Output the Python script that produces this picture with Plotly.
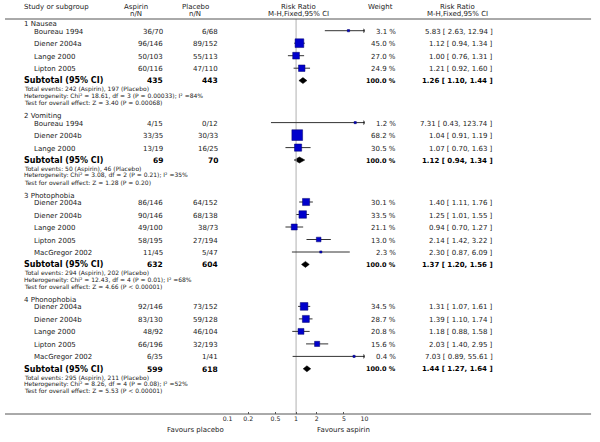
import plotly.graph_objects as go

W, H = 600, 442

# ---------------- data ----------------
groups = ["1 Nausea", "2 Vomiting", "3 Photophobia", "4 Phonophobia"]
studies = [
    ["Boureau 1994", "Diener 2004a", "Lange 2000", "Lipton 2005"],
    ["Boureau 1994", "Diener 2004b", "Lange 2000"],
    ["Diener 2004a", "Diener 2004b", "Lange 2000", "Lipton 2005", "MacGregor 2002"],
    ["Diener 2004a", "Diener 2004b", "Lange 2000", "Lipton 2005", "MacGregor 2002"],
]
aspirin_nN = [
    ["36/70", "96/146", "50/103", "60/116"],
    ["4/15", "33/35", "13/19"],
    ["86/146", "90/146", "49/100", "58/195", "11/45"],
    ["92/146", "83/130", "48/92", "66/196", "6/35"],
]
placebo_nN = [
    ["6/68", "89/152", "55/113", "47/110"],
    ["0/12", "30/33", "16/25"],
    ["64/152", "68/138", "38/73", "27/194", "5/47"],
    ["73/152", "59/128", "46/104", "32/193", "1/41"],
]
weights = [
    [3.1, 45.0, 27.0, 24.9],
    [1.2, 68.2, 30.5],
    [30.1, 33.5, 21.1, 13.0, 2.3],
    [34.5, 28.7, 20.8, 15.6, 0.4],
]
rr = [
    [5.83, 1.12, 1.00, 1.21],
    [7.31, 1.04, 1.07],
    [1.40, 1.25, 0.94, 2.14, 2.30],
    [1.31, 1.39, 1.18, 2.03, 7.03],
]
rr_lo = [
    [2.63, 0.94, 0.76, 0.92],
    [0.43, 0.91, 0.70],
    [1.11, 1.01, 0.70, 1.42, 0.87],
    [1.07, 1.10, 0.88, 1.40, 0.89],
]
rr_hi = [
    [12.94, 1.34, 1.31, 1.60],
    [123.74, 1.19, 1.63],
    [1.76, 1.55, 1.27, 3.22, 6.09],
    [1.61, 1.74, 1.58, 2.95, 55.61],
]
sub_aspirin_N = [435, 69, 632, 599]
sub_placebo_N = [443, 70, 604, 618]
sub_rr = [1.26, 1.12, 1.37, 1.44]
sub_lo = [1.10, 0.94, 1.20, 1.27]
sub_hi = [1.44, 1.34, 1.56, 1.64]
total_events = [
    "Total events: 242 (Aspirin), 197 (Placebo)",
    "Total events: 50 (Aspirin), 46 (Placebo)",
    "Total events: 294 (Aspirin), 202 (Placebo)",
    "Total events: 295 (Aspirin), 211 (Placebo)",
]
heterogeneity = [
    "Heterogeneity: Chi² = 18.61, df = 3 (P = 0.00033); I² =84%",
    "Heterogeneity: Chi² = 3.08, df = 2 (P = 0.21); I² =35%",
    "Heterogeneity: Chi² = 12.43, df = 4 (P = 0.01); I² =68%",
    "Heterogeneity: Chi² = 8.26, df = 4 (P = 0.08); I² =52%",
]
overall_effect = [
    "Test for overall effect: Z = 3.40 (P = 0.00068)",
    "Test for overall effect: Z = 1.28 (P = 0.20)",
    "Test for overall effect: Z = 4.66 (P < 0.00001)",
    "Test for overall effect: Z = 5.53 (P < 0.00001)",
]
tick_vals = [0.1, 0.2, 0.5, 1, 2, 5, 10]
tick_text = ["0.1", "0.2", "0.5", "1", "2", "5", "10"]

# ---------------- layout constants ----------------
FONT = "DejaVu Sans"
TXT = "#222222"
X_LEFT = 17
X_STUDY = 27
X_ASP = 162
X_PLA = 218
X_WT = 399
X_CI = 497
PLOT_L, PLOT_R = 226, 365
AX_MIN, AX_MAX = 0.1, 10
Y_AXIS = 414
STUDY_STEP = 12.5
ROW_SIZE = 7
SMALL_SIZE = 6

fig = go.Figure()
ann = []


def T(x, y, s, anchor="left", size=ROW_SIZE, color=TXT, bold=False):
    ann.append(dict(
        x=x / W, y=y, xref="paper", yref="y", text=f"<b>{s}</b>" if bold else s,
        showarrow=False, xanchor=anchor, yanchor="middle",
        font=dict(family=FONT, size=size, color=color),
    ))


# header
T(X_LEFT, 7, "Study or subgroup")
T(132.5, 7, "Aspirin", "center")
T(132.5, 14, "n/N", "center")
T(193, 7, "Placebo", "center")
T(193, 14, "n/N", "center")
T(297.5, 7, "Risk Ratio", "center")
T(297.5, 14, "M-H,Fixed,95% CI", "center")
T(381, 7, "Weight", "center")
T(459, 7, "Risk Ratio", "center")
T(459, 14, "M-H,Fixed,95% CI", "center")

ci_x, ci_y = [], []
sq_x, sq_y, sq_s = [], [], []
arr_x, arr_y = [], []
y = 30.7
for g in range(len(groups)):
    T(X_LEFT, y - 6.5, groups[g])
    for i, name in enumerate(studies[g]):
        T(X_STUDY, y + 1, name)
        T(X_ASP, y + 1, aspirin_nN[g][i], "right")
        T(X_PLA, y + 1, placebo_nN[g][i], "right")
        T(X_WT, y + 1, f"{weights[g][i]:.1f} %", "right")
        T(X_CI, y + 1, f"{rr[g][i]:.2f} [ {rr_lo[g][i]:.2f}, {rr_hi[g][i]:.2f} ]", "right")
        ci_x += [rr_lo[g][i], rr_hi[g][i], None]
        ci_y += [y, y, None]
        sq_x.append(rr[g][i])
        sq_y.append(y)
        sq_s.append(max(2.2, 1.3 * weights[g][i] ** 0.5))
        if rr_hi[g][i] > AX_MAX:
            arr_x.append(AX_MAX)
            arr_y.append(y)
        y += STUDY_STEP
    yd = y - STUDY_STEP + 12.4
    T(X_LEFT, yd + 0.3, "Subtotal (95% CI)", size=8, color="#000", bold=True)
    T(X_ASP, yd + 0.3, str(sub_aspirin_N[g]), "right", size=7.5, color="#000", bold=True)
    T(X_PLA, yd + 0.3, str(sub_placebo_N[g]), "right", size=7.5, color="#000", bold=True)
    T(X_WT, yd + 0.5, "100.0 %", "right", size=6.5, color="#000", bold=True)
    T(X_CI, yd + 0.5, f"{sub_rr[g]:.2f} [ {sub_lo[g]:.2f}, {sub_hi[g]:.2f} ]", "right", size=7,
      color="#000", bold=True)
    T(X_LEFT, yd + 8.7, total_events[g], size=SMALL_SIZE)
    T(X_LEFT, yd + 15.2, heterogeneity[g], size=SMALL_SIZE)
    T(X_LEFT, yd + 22, overall_effect[g], size=SMALL_SIZE)
    fig.add_trace(go.Scatter(
        x=[sub_lo[g], sub_rr[g], sub_hi[g], sub_rr[g], sub_lo[g]],
        y=[yd, yd - 3, yd, yd + 3, yd],
        mode="lines", fill="toself", fillcolor="#000", line=dict(color="#000", width=0.5),
        hoverinfo="skip", showlegend=False,
    ))
    y = yd + 42

# line of no effect
fig.add_trace(go.Scatter(x=[1, 1], y=[19, Y_AXIS], mode="lines",
                         line=dict(color="#b0b0b0", width=1), hoverinfo="skip", showlegend=False))
# confidence intervals
fig.add_trace(go.Scatter(x=ci_x, y=ci_y, mode="lines", line=dict(color="#333", width=1),
                         hoverinfo="skip", showlegend=False))
# arrows for clipped intervals
fig.add_trace(go.Scatter(x=arr_x, y=arr_y, mode="markers",
                         marker=dict(symbol="triangle-right", size=4, color="#000", opacity=1),
                         hoverinfo="skip", showlegend=False))
# point estimates
fig.add_trace(go.Scatter(x=sq_x, y=sq_y, mode="markers",
                         marker=dict(symbol="square", size=sq_s, color="#0000CC", opacity=1,
                                     line=dict(color="#000066", width=0.5)),
                         hoverinfo="skip", showlegend=False))

# footer
T(224, 429.5, "Favours placebo", "right")
T(315, 429.5, "Favours aspirin", "left")

shapes = [
    dict(type="line", xref="paper", yref="y", x0=0, x1=595 / W, y0=19, y1=19,
         line=dict(color="#555", width=1)),
    dict(type="line", xref="paper", yref="y", x0=0, x1=595 / W, y0=Y_AXIS, y1=Y_AXIS,
         line=dict(color="#555", width=1)),
]

fig.update_layout(
    width=W, height=H, margin=dict(l=0, r=0, t=0, b=0),
    paper_bgcolor="white", plot_bgcolor="rgba(0,0,0,0)",
    showlegend=False, annotations=ann, shapes=shapes,
    xaxis=dict(type="log", range=[-1, 1], domain=[PLOT_L / W, PLOT_R / W],
               anchor="free", position=(H - Y_AXIS) / H,
               tickvals=tick_vals, ticktext=tick_text, ticks="inside", ticklen=2,
               tickcolor="#555", showgrid=False, zeroline=False, showline=False,
               tickfont=dict(family=FONT, size=6.2, color=TXT)),
    yaxis=dict(range=[H, 0], domain=[0, 1], visible=False, showgrid=False, zeroline=False),
)

fig.write_html("out.html", config={"displayModeBar": False},
               post_script="document.body.style.margin='0';")
